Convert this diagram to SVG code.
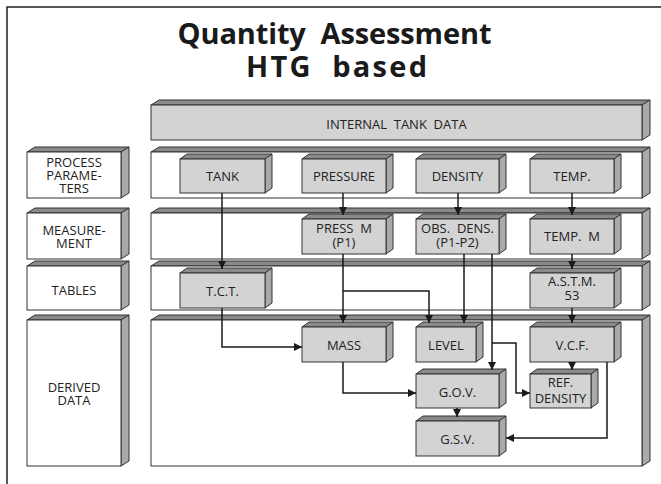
<svg xmlns="http://www.w3.org/2000/svg" width="661" height="484" viewBox="0 0 661 484">
<style>
.frame{fill:none;stroke:#222;stroke-width:1.5}
.bf{fill:#fff;stroke:#333;stroke-width:1}
.nf{fill:#d3d3d3;stroke:#333;stroke-width:1}
.tf{fill:#8a8a8a;stroke:#333;stroke-width:1}
.sf{fill:#a9a9a9;stroke:#333;stroke-width:1}
.title{font-family:"Open Sans","DejaVu Sans",sans-serif;font-weight:700;font-size:29px;fill:#1a1a1a;text-anchor:middle;white-space:pre}
.t{font-family:"Open Sans","DejaVu Sans",sans-serif;font-size:13px;fill:#222;text-anchor:middle;white-space:pre}
.c{fill:none;stroke:#1a1a1a;stroke-width:1.5}
</style>
<defs>
<marker id="ah" viewBox="0 0 10 10" refX="10" refY="5" markerWidth="8" markerHeight="8" markerUnits="userSpaceOnUse" orient="auto">
<path d="M0,0 L10,5 L0,10 z" fill="#1a1a1a"/>
</marker>
</defs>
<rect width="661" height="484" fill="#fff"/>
<path class="frame" d="M7,484 V7 H661"/>
<g id="title">
<text class="title" x="334.5" y="44" textLength="314" lengthAdjust="spacing">Quantity  Assessment</text>
<text class="title" x="336.5" y="77" textLength="181" lengthAdjust="spacing">HTG  based</text>
</g>
<!-- bands -->
<g id="band-internal">
<polygon class="tf" points="151,105 159,100 650,100 642,105"/>
<polygon class="sf" points="642,105 650,100 650,135 642,140"/>
<rect class="nf" x="151" y="105" width="491" height="35"/>
<text class="t" x="396.5" y="129">INTERNAL  TANK  DATA</text>
</g>
<g id="band-process">
<polygon class="tf" points="151,152 159,147 650,147 642,152"/>
<polygon class="sf" points="642,152 650,147 650,193 642,198"/>
<rect class="bf" x="151" y="152" width="491" height="46"/>
</g>
<g id="band-measurement">
<polygon class="tf" points="151,213 159,208 650,208 642,213"/>
<polygon class="sf" points="642,213 650,208 650,254 642,259"/>
<rect class="bf" x="151" y="213" width="491" height="46"/>
</g>
<g id="band-tables">
<polygon class="tf" points="151,266 159,261 650,261 642,266"/>
<polygon class="sf" points="642,266 650,261 650,305 642,310"/>
<rect class="bf" x="151" y="266" width="491" height="44"/>
</g>
<g id="band-derived">
<polygon class="tf" points="151,320 159,315 650,315 642,320"/>
<polygon class="sf" points="642,320 650,315 650,461 642,466"/>
<rect class="bf" x="151" y="320" width="491" height="146"/>
</g>
<!-- row labels -->
<g id="label-process">
<polygon class="tf" points="27,152 35,147 129,147 121,152"/>
<polygon class="sf" points="121,152 129,147 129,193 121,198"/>
<rect class="bf" x="27" y="152" width="94" height="46"/>
<text class="t" x="74" y="167">PROCESS</text>
<text class="t" x="74" y="180">PARAME-</text>
<text class="t" x="74" y="193">TERS</text>
</g>
<g id="label-measurement">
<polygon class="tf" points="27,213 35,208 129,208 121,213"/>
<polygon class="sf" points="121,213 129,208 129,254 121,259"/>
<rect class="bf" x="27" y="213" width="94" height="46"/>
<text class="t" x="74" y="235">MEASURE-</text>
<text class="t" x="74" y="248">MENT</text>
</g>
<g id="label-tables">
<polygon class="tf" points="27,266 35,261 129,261 121,266"/>
<polygon class="sf" points="121,266 129,261 129,305 121,310"/>
<rect class="bf" x="27" y="266" width="94" height="44"/>
<text class="t" x="74" y="295">TABLES</text>
</g>
<g id="label-derived">
<polygon class="tf" points="27,320 35,315 129,315 121,320"/>
<polygon class="sf" points="121,320 129,315 129,461 121,466"/>
<rect class="bf" x="27" y="320" width="94" height="146"/>
<text class="t" x="74" y="392">DERIVED</text>
<text class="t" x="74" y="405">DATA</text>
</g>
<!-- nodes -->
<g id="tank">
<polygon class="tf" points="180,159 187,154 272,154 265,159"/>
<polygon class="sf" points="265,159 272,154 272,188 265,193"/>
<rect class="nf" x="180" y="159" width="85" height="34"/>
<text class="t" x="222.5" y="181">TANK</text>
</g>
<g id="pressure">
<polygon class="tf" points="302,159 309,154 393,154 386,159"/>
<polygon class="sf" points="386,159 393,154 393,188 386,193"/>
<rect class="nf" x="302" y="159" width="84" height="34"/>
<text class="t" x="344" y="181">PRESSURE</text>
</g>
<g id="density">
<polygon class="tf" points="416,159 423,154 506,154 499,159"/>
<polygon class="sf" points="499,159 506,154 506,188 499,193"/>
<rect class="nf" x="416" y="159" width="83" height="34"/>
<text class="t" x="457.5" y="181">DENSITY</text>
</g>
<g id="temp">
<polygon class="tf" points="530,159 537,154 621,154 614,159"/>
<polygon class="sf" points="614,159 621,154 621,188 614,193"/>
<rect class="nf" x="530" y="159" width="84" height="34"/>
<text class="t" x="572" y="181">TEMP.</text>
</g>
<g id="press-m">
<polygon class="tf" points="302,219 309,214 393,214 386,219"/>
<polygon class="sf" points="386,219 393,214 393,249 386,254"/>
<rect class="nf" x="302" y="219" width="84" height="35"/>
<text class="t" x="344" y="233">PRESS  M</text>
<text class="t" x="344" y="246.5">(P1)</text>
</g>
<g id="obs-dens">
<polygon class="tf" points="416,219 423,214 506,214 499,219"/>
<polygon class="sf" points="499,219 506,214 506,249 499,254"/>
<rect class="nf" x="416" y="219" width="83" height="35"/>
<text class="t" x="457.5" y="233">OBS.  DENS.</text>
<text class="t" x="457.5" y="246.5">(P1-P2)</text>
</g>
<g id="temp-m">
<polygon class="tf" points="530,219 537,214 621,214 614,219"/>
<polygon class="sf" points="614,219 621,214 621,249 614,254"/>
<rect class="nf" x="530" y="219" width="84" height="35"/>
<text class="t" x="572" y="241">TEMP.  M</text>
</g>
<g id="tct">
<polygon class="tf" points="180,273 187,268 272,268 265,273"/>
<polygon class="sf" points="265,273 272,268 272,303 265,308"/>
<rect class="nf" x="180" y="273" width="85" height="35"/>
<text class="t" x="222.5" y="295.5">T.C.T.</text>
</g>
<g id="astm">
<polygon class="tf" points="530,273 537,268 621,268 614,273"/>
<polygon class="sf" points="614,273 621,268 621,303 614,308"/>
<rect class="nf" x="530" y="273" width="84" height="35"/>
<text class="t" x="572" y="286">A.S.T.M.</text>
<text class="t" x="572" y="300">53</text>
</g>
<g id="mass">
<polygon class="tf" points="302,327 309,322 393,322 386,327"/>
<polygon class="sf" points="386,327 393,322 393,357 386,362"/>
<rect class="nf" x="302" y="327" width="84" height="35"/>
<text class="t" x="344" y="349.5">MASS</text>
</g>
<g id="level">
<polygon class="tf" points="416,327 423,322 483,322 476,327"/>
<polygon class="sf" points="476,327 483,322 483,357 476,362"/>
<rect class="nf" x="416" y="327" width="60" height="35"/>
<text class="t" x="446" y="349.5">LEVEL</text>
</g>
<g id="vcf">
<polygon class="tf" points="530,327 537,322 621,322 614,327"/>
<polygon class="sf" points="614,327 621,322 621,357 614,362"/>
<rect class="nf" x="530" y="327" width="84" height="35"/>
<text class="t" x="572" y="349.5">V.C.F.</text>
</g>
<g id="gov">
<polygon class="tf" points="416,374 423,369 506,369 499,374"/>
<polygon class="sf" points="499,374 506,369 506,403 499,408"/>
<rect class="nf" x="416" y="374" width="83" height="34"/>
<text class="t" x="457.5" y="397">G.O.V.</text>
</g>
<g id="ref-density">
<polygon class="tf" points="530,374 537,369 598,369 591,374"/>
<polygon class="sf" points="591,374 598,369 598,403 591,408"/>
<rect class="nf" x="530" y="374" width="61" height="34"/>
<text class="t" x="560.5" y="387">REF.</text>
<text class="t" x="560.5" y="403">DENSITY</text>
</g>
<g id="gsv">
<polygon class="tf" points="416,421 423,416 506,416 499,421"/>
<polygon class="sf" points="499,421 506,416 506,451 499,456"/>
<rect class="nf" x="416" y="421" width="83" height="35"/>
<text class="t" x="457.5" y="444">G.S.V.</text>
</g>
<!-- connectors -->
<g id="connectors">
<path class="c" d="M222,193 V269" marker-end="url(#ah)"/>
<path class="c" d="M222,308 V347 H302" marker-end="url(#ah)"/>
<path class="c" d="M343,193 V215" marker-end="url(#ah)"/>
<path class="c" d="M343,254 V323" marker-end="url(#ah)"/>
<path class="c" d="M343,291 H429 V323" marker-end="url(#ah)"/>
<path class="c" d="M458,193 V215" marker-end="url(#ah)"/>
<path class="c" d="M464,254 V323" marker-end="url(#ah)"/>
<path class="c" d="M492,254 V370" marker-end="url(#ah)"/>
<path class="c" d="M492,343 H516 V393 H530" marker-end="url(#ah)"/>
<path class="c" d="M343,362 V393 H416" marker-end="url(#ah)"/>
<path class="c" d="M457,408 V417" marker-end="url(#ah)"/>
<path class="c" d="M572,193 V215" marker-end="url(#ah)"/>
<path class="c" d="M572,254 V269" marker-end="url(#ah)"/>
<path class="c" d="M572,308 V323" marker-end="url(#ah)"/>
<path class="c" d="M572,362 V370" marker-end="url(#ah)"/>
<path class="c" d="M607,362 V438 H506" marker-end="url(#ah)"/>
</g>
</svg>
